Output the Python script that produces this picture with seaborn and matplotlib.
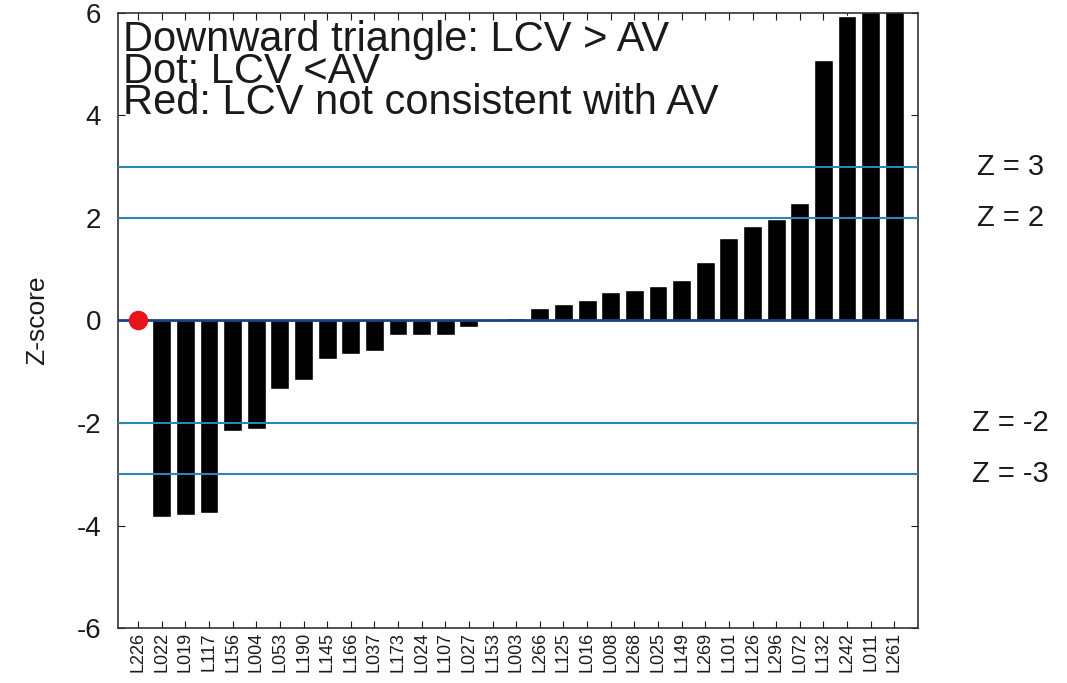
import numpy as np
import pandas as pd
import matplotlib
matplotlib.use('Agg')
import matplotlib.pyplot as plt
import seaborn as sns

labs = ['L226', 'L022', 'L019', 'L117', 'L156', 'L004', 'L053', 'L190', 'L145', 'L166',
        'L037', 'L173', 'L024', 'L107', 'L027', 'L153', 'L003', 'L266', 'L125', 'L016',
        'L008', 'L268', 'L025', 'L149', 'L269', 'L101', 'L126', 'L296', 'L072', 'L132',
        'L242', 'L011', 'L261']
zscores = [0.0, -3.84, -3.79, -3.75, -2.15, -2.11, -1.33, -1.17, -0.75, -0.66,
           -0.59, -0.28, -0.28, -0.28, -0.12, 0.0, 0.05, 0.24, 0.32, 0.40,
           0.56, 0.60, 0.67, 0.79, 1.14, 1.61, 1.84, 1.98, 2.30, 5.09,
           5.94, 6.5, 7.0]
red_dot = ['L226']
zlines = [3, 2, -2, -3]
yticks = [-6, -4, -2, 0, 2, 4, 6]

sns.set_style('ticks')
plt.rcParams['font.family'] = ['Liberation Sans', 'DejaVu Sans']
plt.rcParams['axes.unicode_minus'] = False
plt.rcParams['text.color'] = '#1a1a1a'
plt.rcParams['axes.labelcolor'] = '#1a1a1a'
plt.rcParams['xtick.color'] = '#1a1a1a'
plt.rcParams['ytick.color'] = '#1a1a1a'

df = pd.DataFrame({'lab': labs, 'z': zscores})

fig = plt.figure(figsize=(10.67, 6.83), dpi=100)
ax = fig.add_axes([0.1106, 0.0805, 0.7497, 0.9005])

sns.barplot(data=df, x='lab', y='z', order=labs, color='black', width=0.8,
            saturation=1, ax=ax)

# red dot for LCV not consistent
rd = df[df['lab'].isin(red_dot)]
ax.scatter([labs.index(l) for l in rd['lab']], rd['z'], s=170, color='#e8141b',
           zorder=5, clip_on=False)

ax.axhline(0, color='#1a3f8a', lw=2, zorder=4)
for z in zlines:
    ax.axhline(z, color='#2b86b8', lw=1.5, zorder=4)
    ax.text(1.116, z, f'Z = {z}', transform=ax.get_yaxis_transform(),
            ha='center', va='center', fontsize=21)

ax.set_ylim(-6, 6)
ax.set_xlim(-0.85, len(labs) - 0.0)
ax.set_yticks(yticks)
ax.set_yticklabels([str(t) for t in yticks])
ax.set_xlabel('')
ax.set_ylabel('Z-score', fontsize=19, labelpad=20)
ax.tick_params(axis='y', labelsize=20, direction='in', right=True, length=5, pad=12)
ax.tick_params(axis='x', labelsize=13, rotation=90, direction='in', top=True, length=5, pad=3)
for t in ax.get_xticklabels():
    t.set_family(['Liberation Sans Narrow', 'Liberation Sans'])
for s in ax.spines.values():
    s.set_linewidth(1.2)
    s.set_color('#333333')

ax.text(0.006, 0.988, 'Downward triangle: LCV > AV\nDot: LCV <AV\nRed: LCV not consistent with AV',
        transform=ax.transAxes, ha='left', va='top', fontsize=30, linespacing=0.72)

fig.savefig('out.png', dpi=100)
